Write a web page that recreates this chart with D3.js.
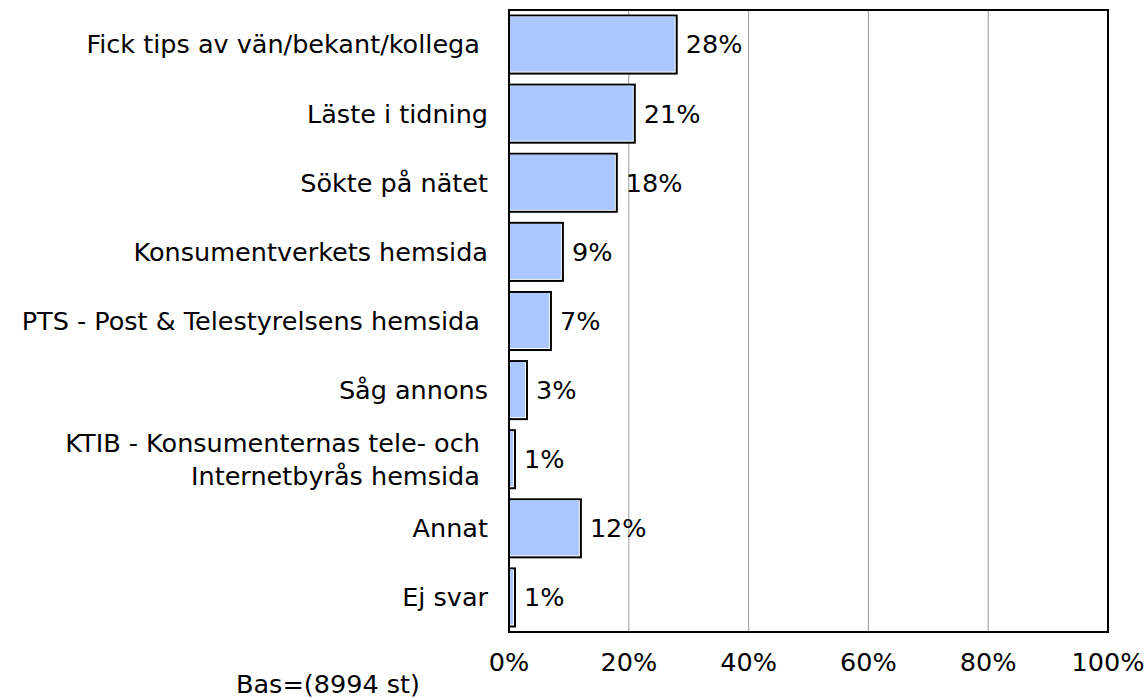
<!DOCTYPE html>
<html><head><meta charset="utf-8">
<script src="https://cdn.jsdelivr.net/npm/d3@7"></script>
<style>body{margin:0;background:#fff}text{font-family:"DejaVu Sans",Verdana,sans-serif;white-space:pre}</style>
</head><body><svg id="c" width="1145" height="698"></svg>
<script>
const categories = [
  ["Fick tips av vän/bekant/kollega "],
  ["Läste i tidning"],
  ["Sökte på nätet"],
  ["Konsumentverkets hemsida"],
  ["PTS - Post & Telestyrelsens hemsida "],
  ["Såg annons"],
  ["KTIB - Konsumenternas tele- och ", "Internetbyrås hemsida "],
  ["Annat"],
  ["Ej svar"]
];
const values = [28, 21, 18, 9, 7, 3, 1, 12, 1];
const ticks = [0, 20, 40, 60, 80, 100];
const baseNote = "Bas=(8994 st)";

const FS = 25.5;
const svg = d3.select("#c");
const m = {l: 509, r: 1108, t: 10, b: 632};
const x = d3.scaleLinear().domain([0, 100]).range([m.l, m.r]);
const y = d3.scaleBand().domain(d3.range(values.length)).range([m.t, m.b]).paddingInner(0.16).paddingOuter(0.08);

// gridlines
svg.append("g").selectAll("line").data(ticks.filter(t => t > 0 && t < 100)).join("line")
  .attr("x1", d => x(d)).attr("x2", d => x(d)).attr("y1", m.t).attr("y2", m.b)
  .attr("stroke", "#999").attr("stroke-width", 1);

// bars
const bars = svg.append("g").selectAll("g").data(values).join("g");
bars.append("rect")
  .attr("x", x(0)).attr("y", (d, i) => y(i))
  .attr("width", d => x(d) - x(0)).attr("height", y.bandwidth())
  .attr("fill", "#fff").attr("stroke", "#000").attr("stroke-width", 2);
bars.append("rect")
  .attr("x", x(0) + 1).attr("y", (d, i) => y(i) + 1)
  .attr("width", d => Math.max(0, x(d) - x(0) - 3)).attr("height", y.bandwidth() - 3)
  .attr("fill", "#aac8ff");

// value labels
svg.append("g").selectAll("text").data(values).join("text")
  .attr("x", d => x(d) + 9).attr("y", (d, i) => y(i) + y.bandwidth() / 2)
  .attr("dy", "0.35em").attr("font-size", FS).attr("fill", "#000")
  .text(d => d + "%");

// frame
svg.append("rect").attr("x", m.l).attr("y", m.t).attr("width", m.r - m.l).attr("height", m.b - m.t)
  .attr("fill", "none").attr("stroke", "#000").attr("stroke-width", 2);

// category labels
const cl = svg.append("g").selectAll("text").data(categories).join("text")
  .attr("text-anchor", "end").attr("font-size", FS).attr("fill", "#000")
  .attr("y", (d, i) => y(i) + y.bandwidth() / 2);
cl.selectAll("tspan").data(d => d.map((t, k) => ({t, k, n: d.length}))).join("tspan")
  .attr("x", 488)
  .attr("dy", d => d.k === 0 ? (0.35 - (d.n - 1) * 0.65) + "em" : "1.3em")
  .text(d => d.t);

// x axis labels
svg.append("g").selectAll("text").data(ticks).join("text")
  .attr("x", d => x(d)).attr("y", 662).attr("dy", "0.35em")
  .attr("text-anchor", "middle").attr("font-size", FS).attr("fill", "#000")
  .text(d => d + "%");

svg.append("text").attr("x", 236).attr("y", 684).attr("dy", "0.35em")
  .attr("font-size", FS).attr("fill", "#000").text(baseNote);
</script></body></html>
